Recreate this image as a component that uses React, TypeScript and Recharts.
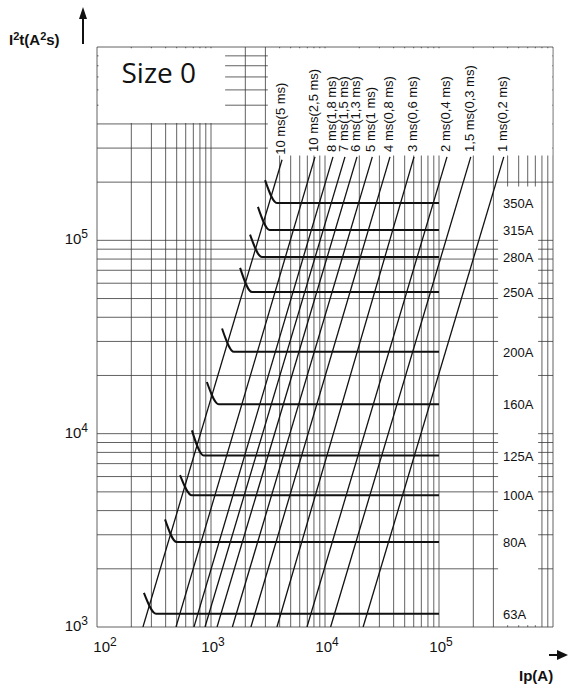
import { ComposedChart, Line, XAxis, YAxis, CartesianGrid, ReferenceArea, LabelList } from 'recharts';

// grid positions (log decades, 1..9)
const xGridTicks = [
  100, 200, 300, 400, 500, 600, 700, 800, 900,
  1000, 2000, 3000, 4000, 5000, 6000, 7000, 8000, 9000,
  10000, 20000, 30000, 40000, 50000, 60000, 70000, 80000, 90000,
  100000, 200000, 300000, 400000, 500000, 600000, 700000, 800000, 900000,
  1000000,
];
const yGridTicks = [
  1000, 2000, 3000, 4000, 5000, 6000, 7000, 8000, 9000,
  10000, 20000, 30000, 40000, 50000, 60000, 70000, 80000, 90000,
  100000, 200000, 300000, 400000, 500000, 600000, 700000, 800000, 900000,
  1000000,
];
const xLabelTicks = [100, 1000, 10000, 100000];
const yLabelTicks = [1000, 10000, 100000];

// pre-arcing time lines (I2t ~ Ip^2)
const durationLabels = [
  '10 ms(5 ms)', '10 ms(2,5 ms)', '8 ms(1,8 ms)', '7 ms(1,5 ms)', '6 ms(1,3 ms)',
  '5 ms(1 ms)', '4 ms(0,8 ms)', '3 ms(0,6 ms)', '2 ms(0,4 ms)', '1,5 ms(0,3 ms)', '1 ms(0,2 ms)',
];
const durationIpLow = [253, 493, 709, 886, 1130, 1540, 2240, 3790, 6950, 11200, 21600];
const durationI2tLow = 1000;
const durationIpHigh = [4200, 8170, 11750, 14970, 19080, 26000, 37160, 60400, 117500, 190000, 370000];
const durationI2tHigh = [261000, 270000, 270000, 270000, 270000, 270000, 270000, 270000, 270000, 270000, 270000];

// fuse ratings: hook start, corner, plateau up to 10^5 A
const ratingLabels = ['350A', '315A', '280A', '250A', '200A', '160A', '125A', '100A', '80A', '63A'];
const ratingI2t = [156000, 113000, 82000, 54000, 26500, 14200, 7700, 4800, 2750, 1170];
const hookTopIp = [2980, 2580, 2200, 1800, 1250, 920, 680, 535, 395, 258];
const hookTopI2t = [205000, 149000, 107000, 72000, 35000, 18500, 10400, 6100, 3600, 1500];
const hookCornerIp = [3790, 3280, 2800, 2290, 1590, 1170, 865, 680, 500, 330];
const plateauEndIp = 100000;

const FONT = '"Liberation Sans", Arial, Helvetica, sans-serif';

const durationSeries = durationLabels.map((name, i) => ({
  name,
  data: [
    { x: durationIpLow[i], y: durationI2tLow },
    { x: durationIpHigh[i], y: durationI2tHigh[i] },
  ],
}));

const ratingSeries = ratingLabels.map((name, i) => ({
  name,
  data: [
    { x: hookTopIp[i], y: hookTopI2t[i] },
    { x: hookCornerIp[i], y: ratingI2t[i] },
    { x: plateauEndIp, y: ratingI2t[i] },
  ],
}));

function XTick(props: any) {
  const { x, y, payload } = props;
  const v = payload.value;
  if (!xLabelTicks.includes(v)) return null;
  const exp = Math.round(Math.log10(v));
  const cx = v === 100 ? x + 8 : x + 2;
  return (
    <text x={cx} y={y + 25} textAnchor="middle" fontFamily={FONT} fontSize={15} fill="#111">
      10<tspan dy={-6} fontSize={12}>{exp}</tspan>
    </text>
  );
}

function YTick(props: any) {
  const { x, y, payload } = props;
  const v = payload.value;
  if (!yLabelTicks.includes(v)) return null;
  const exp = Math.round(Math.log10(v));
  return (
    <text x={x - 9} y={y + 4} textAnchor="end" fontFamily={FONT} fontSize={15} fill="#111">
      10<tspan dy={-6} fontSize={12}>{exp}</tspan>
    </text>
  );
}

const yTitle = () => (
  <g>
    <text x={9} y={45} fontFamily={FONT} fontWeight="bold" fontSize={15} fill="#111">
      I<tspan dy={-5} fontSize={11}>2</tspan>
      <tspan dy={5}>t(A</tspan>
      <tspan dy={-5} fontSize={11}>2</tspan>
      <tspan dy={5}>s)</tspan>
    </text>
    <line x1={83} y1={44} x2={83} y2={16} stroke="#111" strokeWidth={2} />
    <path d="M83,7 L79,19 L87,19 Z" fill="#111" />
  </g>
);

const xTitle = () => (
  <g>
    <text x={519} y={681} fontFamily={FONT} fontWeight="bold" fontSize={15} fill="#111">Ip(A)</text>
    <line x1={549} y1={655} x2={560} y2={655} stroke="#111" strokeWidth={2} />
    <path d="M568,655 L557,650 L557,660 Z" fill="#111" />
  </g>
);

const sizeLabel = (props: any) => {
  const vb = props.viewBox || { x: 0, y: 0 };
  return (
    <text x={vb.x + 23} y={vb.y + 35} fontFamily='"Open Sans", "DejaVu Sans", sans-serif' fontSize={28} fill="#111">
      Size 0
    </text>
  );
};

export default function App() {
  return (
    <div style={{ position: 'absolute', left: 0, top: 0, background: '#fff' }}>
      <ComposedChart width={568} height={689} margin={{ top: 47, right: 15, bottom: 0, left: 0 }}>
        <CartesianGrid stroke="#3a3a3a" strokeWidth={0.8} />
        <XAxis
          dataKey="x" type="number" scale="log" domain={[100, 1000000]} allowDataOverflow
          ticks={xGridTicks} interval={0} height={62} axisLine={false} tickLine={false}
          tickSize={0} tickMargin={0} tick={XTick} label={xTitle}
        />
        <YAxis
          dataKey="y" type="number" scale="log" domain={[1000, 1000000]} allowDataOverflow
          ticks={yGridTicks} interval={0} width={97} axisLine={false} tickLine={false}
          tickSize={0} tickMargin={0} tick={YTick} label={yTitle}
        />
        <ReferenceArea x1={103} x2={1330} y1={405000} y2={985000} fill="#fff" fillOpacity={1} stroke="none" label={sizeLabel} />
        <ReferenceArea x1={3150} x2={985000} y1={275000} y2={985000} fill="#fff" fillOpacity={1} stroke="none" />
        <ReferenceArea x1={330000} x2={740000} y1={1020} y2={190000} fill="#fff" fillOpacity={1} stroke="none" />
        {durationSeries.map((s) => (
          <Line
            key={s.name} data={s.data} dataKey="y" type="linear" stroke="#111" strokeWidth={1.3}
            dot={false} activeDot={false} isAnimationActive={false}
          >
            <LabelList
              dataKey="y"
              content={(p: any) =>
                p.index === 1 ? (
                  <text
                    transform={`translate(${p.x + 3},${p.y - 5}) rotate(-90)`}
                    fontFamily={FONT} fontSize={13} fill="#111"
                  >
                    {s.name}
                  </text>
                ) : null
              }
            />
          </Line>
        ))}
        {ratingSeries.map((s) => (
          <Line
            key={s.name} data={s.data} dataKey="y" type="monotoneX" stroke="#111" strokeWidth={2}
            dot={false} activeDot={false} isAnimationActive={false}
          >
            <LabelList
              dataKey="y"
              content={(p: any) =>
                p.index === 2 ? (
                  <text x={p.x + 64} y={p.y + 5} fontFamily={FONT} fontSize={13} fill="#111">
                    {s.name}
                  </text>
                ) : null
              }
            />
          </Line>
        ))}
      </ComposedChart>
    </div>
  );
}
